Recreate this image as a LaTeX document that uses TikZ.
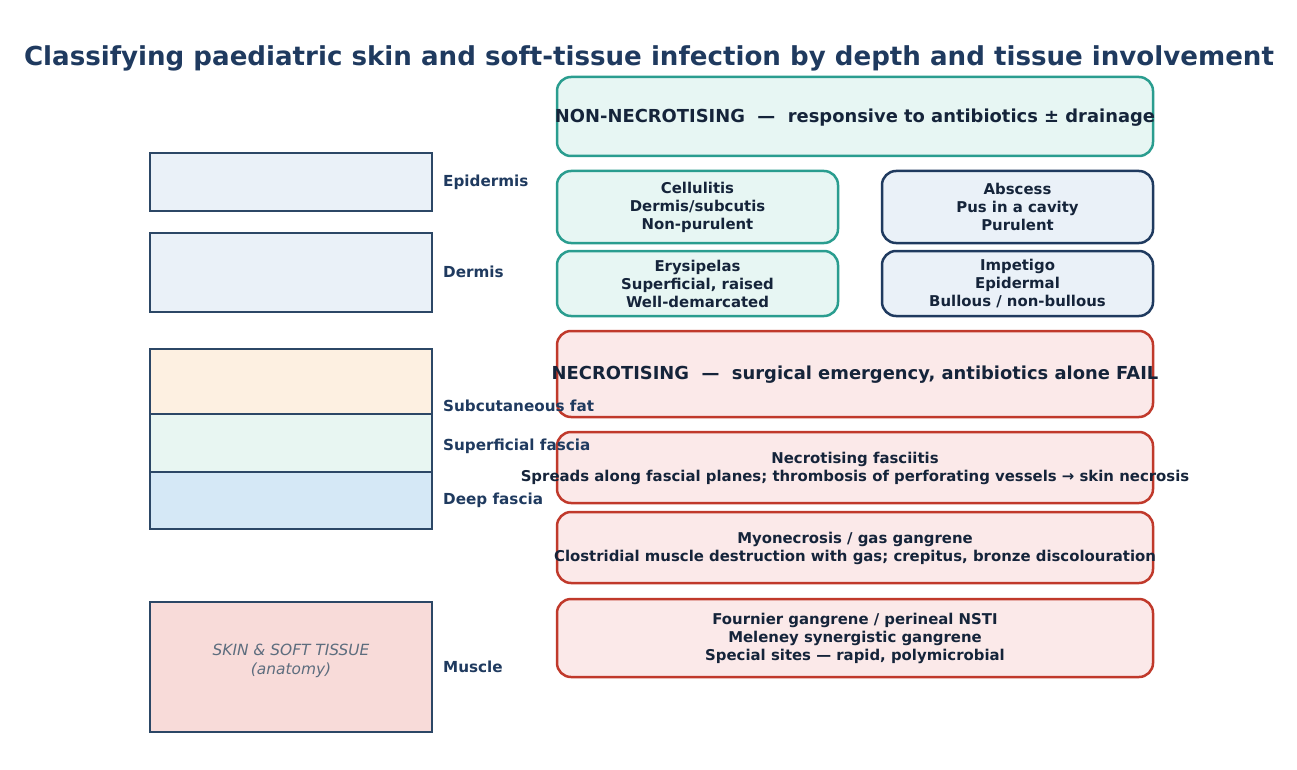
\documentclass[tikz,border=0pt]{standalone}
\usepackage{fontspec}
\setmainfont{DejaVu Sans}
\usepackage{xcolor}
\usetikzlibrary{positioning}

\definecolor{navy}{HTML}{1F3A5F}
\definecolor{inkdark}{HTML}{15243A}
\definecolor{layerline}{HTML}{2C4766}
\definecolor{teal}{HTML}{2A9D8F}
\definecolor{tealfill}{HTML}{E7F6F3}
\definecolor{navyfill}{HTML}{EAF1F8}
\definecolor{redline}{HTML}{C0392B}
\definecolor{redfill}{HTML}{FBE9E9}
\definecolor{fatfill}{HTML}{FDF0E1}
\definecolor{sfasfill}{HTML}{E8F6F2}
\definecolor{dfasfill}{HTML}{D5E8F6}
\definecolor{musfill}{HTML}{F8DBD9}
\definecolor{anatgray}{HTML}{5D6D7E}

\begin{document}
\begin{tikzpicture}[x=1pt, y=-1pt,
      layer/.style={rectangle, draw=layerline, line width=1.5pt, minimum width=282pt, inner sep=0pt},
      layerlbl/.style={anchor=west, inner sep=0pt, text=navy, font=\fontsize{15.2}{17}\selectfont\bfseries},
      grpbox/.style={rectangle, rounded corners=14pt, line width=2.5pt, inner sep=0pt},
      nonbox/.style={grpbox, draw=teal, fill=tealfill},
      absbox/.style={grpbox, draw=navy, fill=navyfill},
      necbox/.style={grpbox, draw=redline, fill=redfill},
      headtxt/.style={text=inkdark, font=\fontsize{17.9}{21}\selectfont\bfseries},
      itemtxt/.style={text=inkdark, align=center, font=\fontsize{14.9}{18}\selectfont\bfseries}
    ]
      \useasboundingbox (0,0) rectangle (1297,770);
      \node[text=navy, font=\fontsize{26.1}{30}\selectfont\bfseries] (title) at (649,58)
        {Classifying paediatric skin and soft-tissue infection by depth and tissue involvement};

      % anatomy column
      \node[layer, fill=navyfill, minimum height=58pt] (epi) at (291,182) {};
      \node[layer, fill=navyfill, minimum height=79pt] (der) at (291,272.5) {};
      \node[layer, fill=fatfill, minimum height=65pt] (fat) at (291,381.5) {};
      \node[layer, fill=sfasfill, minimum height=58pt] (sfas) at (291,443) {};
      \node[layer, fill=dfasfill, minimum height=57pt] (dfas) at (291,500.5) {};
      \node[layer, fill=musfill, minimum height=130pt] (mus) at (291,667) {};
      \node[align=center, text=anatgray, font=\fontsize{15.4}{19}\selectfont\itshape] (anat) at (291,661)
        {SKIN \& SOFT TISSUE\\(anatomy)};

      % non-necrotising group
      \node[nonbox, minimum width=596pt, minimum height=79pt] (nonnec) at (855,116.5) {};
      \node[headtxt] (nonnect) at (855,117.5) {NON-NECROTISING~~—~~responsive to antibiotics ± drainage};
      \node[nonbox, minimum width=281pt, minimum height=72pt] (cell) at (697.5,207) {};
      \node[itemtxt] (cellt) at (cell.center) {Cellulitis\\Dermis/subcutis\\Non-purulent};
      \node[absbox, minimum width=271pt, minimum height=72pt] (absc) at (1017.5,207) {};
      \node[itemtxt] (absct) at (absc.center) {Abscess\\Pus in a cavity\\Purulent};
      \node[nonbox, minimum width=281pt, minimum height=65pt] (erys) at (697.5,283.5) {};
      \node[itemtxt] (eryst) at (erys.center) {Erysipelas\\Superficial, raised\\Well-demarcated};
      \node[absbox, minimum width=271pt, minimum height=65pt] (imp) at (1017.5,283.5) {};
      \node[itemtxt] (impt) at (imp.center) {Impetigo\\Epidermal\\Bullous / non-bullous};

      % necrotising group
      \node[necbox, minimum width=596pt, minimum height=86pt] (nec) at (855,374) {};
      \node[headtxt] (nect) at (855,374.5) {NECROTISING~~—~~surgical emergency, antibiotics alone FAIL};
      \node[necbox, minimum width=596pt, minimum height=71pt] (fasc) at (855,467.5) {};
      \node[itemtxt] (fasct) at (855,468)
        {Necrotising fasciitis\\Spreads along fascial planes; thrombosis of perforating vessels → skin necrosis};
      \node[necbox, minimum width=596pt, minimum height=71pt] (myo) at (855,547.5) {};
      \node[itemtxt] (myot) at (855,548)
        {Myonecrosis / gas gangrene\\Clostridial muscle destruction with gas; crepitus, bronze discolouration};
      \node[necbox, minimum width=596pt, minimum height=78pt] (four) at (855,638) {};
      \node[itemtxt] (fourt) at (855,638)
        {Fournier gangrene / perineal NSTI\\Meleney synergistic gangrene\\Special sites — rapid, polymicrobial};

      % layer names
      \node[layerlbl] (epil) at (443,182) {Epidermis};
      \node[layerlbl] (derl) at (443,272) {Dermis};
      \node[layerlbl] (fatl) at (443,406) {Subcutaneous fat};
      \node[layerlbl] (sfasl) at (443,446) {Superficial fascia};
      \node[layerlbl] (dfasl) at (443,500) {Deep fascia};
      \node[layerlbl] (musl) at (443,667) {Muscle};
    \end{tikzpicture}
\end{document}
